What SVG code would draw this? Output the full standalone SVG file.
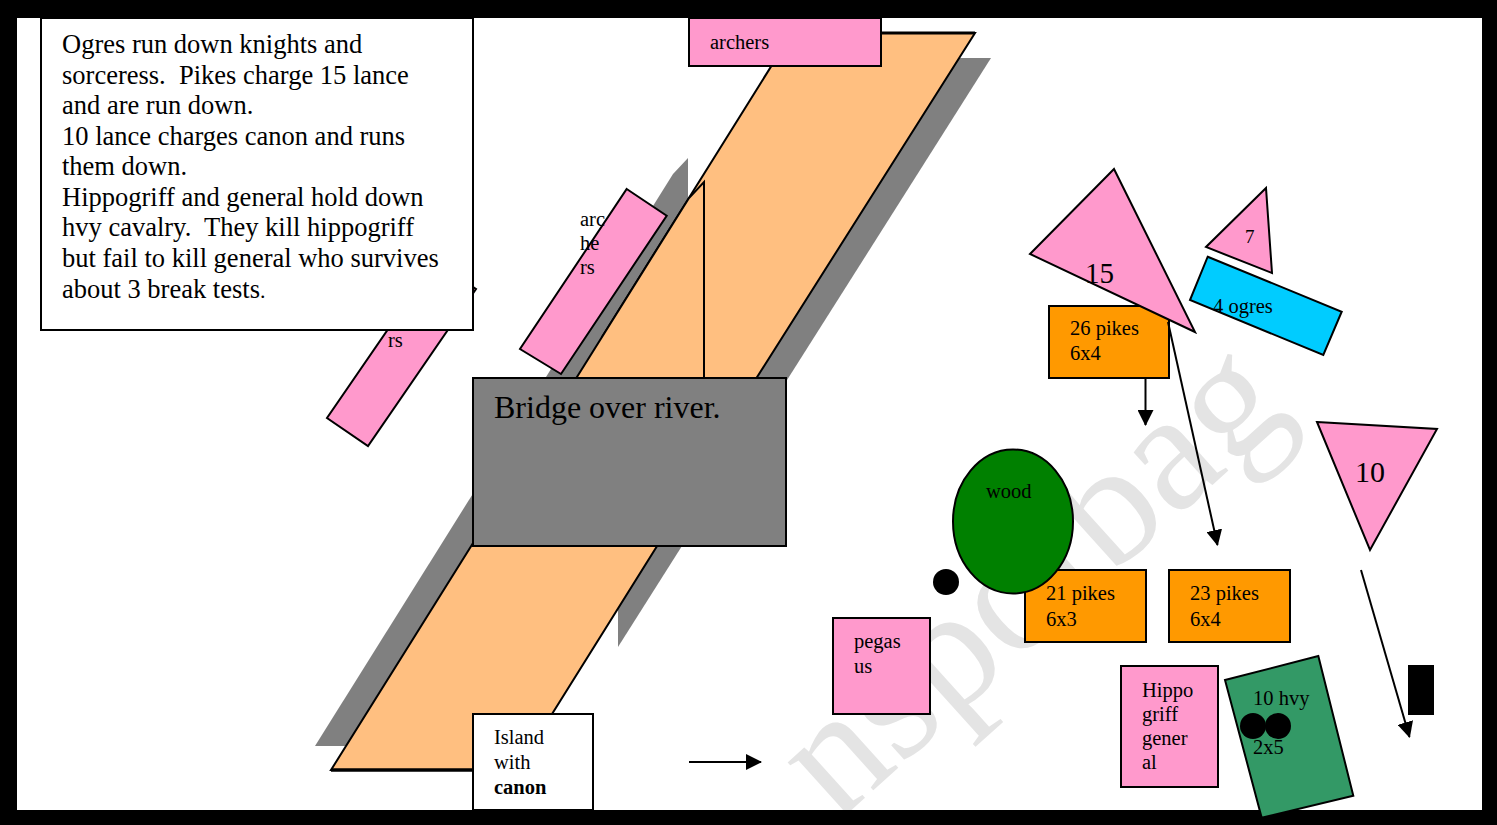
<svg xmlns="http://www.w3.org/2000/svg" width="1497" height="825" viewBox="0 0 1497 825">
<style>
text{font-family:"Liberation Serif","Times New Roman",serif;fill:#000}
.lbl{font-size:20.5px}
.note{font-size:26.5px}
.shp{stroke:#000;stroke-width:2}
.pink{fill:#FF99CC}
.orng{fill:#FF9900}
.river{fill:#FFBF80}
.shadow{fill:#808080}
.conn{stroke:#000;stroke-width:2;fill:none}
</style>
<defs>
<marker id="ah" viewBox="0 0 16 16" markerWidth="16" markerHeight="16" refX="15" refY="8" orient="auto" markerUnits="userSpaceOnUse">
<path d="M0,0 L16,8 L0,16 z" fill="#000"/>
</marker>
<clipPath id="inner"><rect x="17" y="18" width="1465" height="792"/></clipPath>
</defs>

<g id="frame">
<rect x="0" y="0" width="1497" height="825" fill="#000"/>
<rect x="17" y="18" width="1465" height="792" fill="#fff"/>
</g>

<g id="watermark" clip-path="url(#inner)">
<text x="0" y="0" transform="translate(837,823) rotate(-42)" style="font-size:170px;fill:#e4e4e4">nspotbag</text>
</g>

<g id="river">
<polygon class="shadow" points="808,58 991,58 618,647 618,362"/>
<polygon class="shadow" points="688,158 688,447 501,746 315,746 673,174"/>
<polygon class="river shp" points="792,33 975,33 602,622 602,337" stroke-width="1.5"/>
<polygon class="river shp" points="704,182 704,471 517,770 331,770 689,198" stroke-width="1.5"/>
<line x1="792" y1="33" x2="975" y2="33" stroke="#000" stroke-width="3"/>
<line x1="331" y1="770" x2="517" y2="770" stroke="#000" stroke-width="3.5"/>
</g>

<g id="archers-left">
<polygon class="pink shp" points="435,261 476,289 368,446 327,418"/>
<text class="lbl" x="388" y="347">rs</text>
</g>

<g id="notes">
<rect x="41" y="18" width="432" height="312" fill="#fff" class="shp"/>
<text class="note" x="62" y="53">Ogres run down knights and</text>
<text class="note" x="62" y="84">sorceress.&#160; Pikes charge 15 lance</text>
<text class="note" x="62" y="114">and are run down.</text>
<text class="note" x="62" y="145">10 lance charges canon and runs</text>
<text class="note" x="62" y="175">them down.</text>
<text class="note" x="62" y="206">Hippogriff and general hold down</text>
<text class="note" x="62" y="236">hvy cavalry.&#160; They kill hippogriff</text>
<text class="note" x="62" y="267">but fail to kill general who survives</text>
<text class="note" x="62" y="298">about 3 break tests<tspan style="font-size:22px">.</tspan></text>
</g>

<g id="archers-mid">
<polygon class="pink shp" points="626.7,189 666.7,215.7 561,374 520,349"/>
<text class="lbl" x="580" y="226">arc</text>
<text class="lbl" x="580" y="250">he</text>
<text class="lbl" x="580" y="274">rs</text>
</g>

<g id="archers-top">
<rect x="689" y="18" width="192" height="48" class="pink shp"/>
<text class="lbl" x="710" y="49">archers</text>
</g>

<g id="bridge">
<rect x="473" y="378" width="313" height="168" class="shp" fill="#808080"/>
<text x="494" y="418" style="font-size:32px">Bridge over river.</text>
</g>

<g id="island">
<rect x="473" y="714" width="120" height="96" class="shp" fill="#fff"/>
<text class="lbl" x="494" y="744">Island</text>
<text class="lbl" x="494" y="769">with</text>
<text class="lbl" x="494" y="794" font-weight="bold">canon</text>
</g>

<g id="pikes26">
<rect x="1049" y="306" width="120" height="72" class="orng shp"/>
<text class="lbl" x="1070" y="335">26 pikes</text>
<text class="lbl" x="1070" y="360">6x4</text>
</g>

<g id="lance15">
<polygon class="pink shp" points="1114,169 1030,254 1195,332"/>
<text x="1085" y="283" style="font-size:29px">15</text>
</g>

<g id="lance7">
<polygon class="pink shp" points="1266,188 1206,247 1272,273"/>
<text class="lbl" x="1245" y="243" style="font-size:19px">7</text>
</g>

<g id="ogres">
<polygon points="1207.7,256.7 1341.7,311.7 1323.3,355 1190,300" class="shp" fill="#00CCFF"/>
<text class="lbl" x="1213" y="313">4 ogres</text>
</g>

<g id="pikes21">
<rect x="1025" y="570" width="121" height="72" class="orng shp"/>
<text class="lbl" x="1046" y="600">21 pikes</text>
<text class="lbl" x="1046" y="626">6x3</text>
</g>

<g id="wood">
<ellipse cx="1013" cy="521.5" rx="60" ry="72" class="shp" fill="#008000"/>
<text class="lbl" x="986" y="498">wood</text>
</g>

<g id="marker-dot">
<circle cx="946" cy="582" r="13" fill="#000"/>
</g>

<g id="pikes23">
<rect x="1169" y="570" width="121" height="72" class="orng shp"/>
<text class="lbl" x="1190" y="600">23 pikes</text>
<text class="lbl" x="1190" y="626">6x4</text>
</g>

<g id="pegasus">
<rect x="833" y="618" width="97" height="96" class="pink shp"/>
<text class="lbl" x="854" y="648">pegas</text>
<text class="lbl" x="854" y="673">us</text>
</g>

<g id="hippogriff">
<rect x="1121" y="666" width="97" height="121" class="pink shp"/>
<text class="lbl" x="1142" y="697">Hippo</text>
<text class="lbl" x="1142" y="721">griff</text>
<text class="lbl" x="1142" y="745">gener</text>
<text class="lbl" x="1142" y="769">al</text>
</g>

<g id="hvy10">
<polygon points="1225,680 1318.3,656 1353.3,795.7 1261.7,817.7" class="shp" fill="#339966"/>
<text class="lbl" x="1253" y="705">10 hvy</text>
<circle cx="1253" cy="726" r="13" fill="#000"/>
<circle cx="1278" cy="726" r="13" fill="#000"/>
<text class="lbl" x="1253" y="754">2x5</text>
</g>

<g id="lance10">
<polygon class="pink shp" points="1317,422 1437,429 1370,550"/>
<text x="1355" y="482" style="font-size:30px">10</text>
</g>

<g id="block">
<rect x="1408" y="665" width="26" height="50" fill="#000"/>
</g>

<g id="connectors">
<line class="conn" x1="1145.5" y1="378" x2="1145.5" y2="425" marker-end="url(#ah)"/>
<line class="conn" x1="1168" y1="322" x2="1217.5" y2="545" marker-end="url(#ah)"/>
<line class="conn" x1="1361" y1="570" x2="1409.5" y2="737" marker-end="url(#ah)"/>
<line class="conn" x1="689" y1="762" x2="761" y2="762" marker-end="url(#ah)"/>
</g>
</svg>
